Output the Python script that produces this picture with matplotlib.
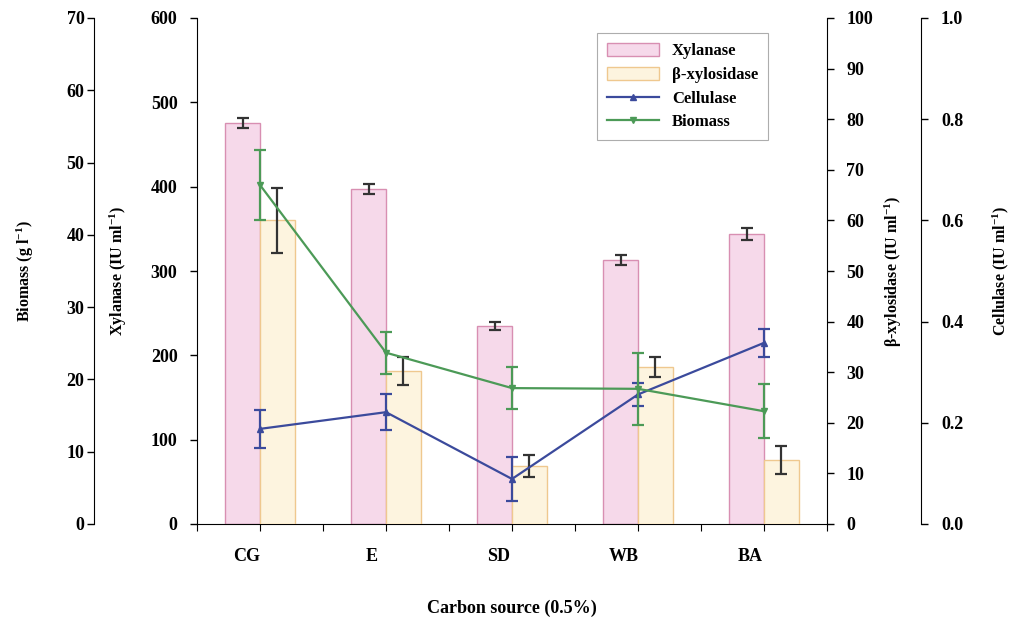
import numpy as np
import matplotlib.pyplot as plt
from matplotlib.patches import Patch
from matplotlib.lines import Line2D

plt.rcParams['font.family'] = ['Liberation Serif', 'DejaVu Serif']
plt.rcParams['font.weight'] = 'bold'
plt.rcParams['axes.labelweight'] = 'bold'
plt.rcParams['mathtext.fontset'] = 'custom'
plt.rcParams['mathtext.rm'] = 'Liberation Serif:bold'
plt.rcParams['mathtext.default'] = 'rm'

# Carbon sources and measured activities (mean, error)
categories = ['CG', 'E', 'SD', 'WB', 'BA']
xylanase = [475, 397, 235, 313, 344]
xylanase_err = [6, 6, 5, 6, 7]
bxylosidase = [60, 30.2, 11.5, 31, 12.6]
bxylosidase_err = [6.5, 2.8, 2.2, 2.0, 2.8]
cellulase = [0.188, 0.221, 0.089, 0.256, 0.358]
cellulase_err = [0.038, 0.036, 0.043, 0.023, 0.028]
biomass = [46.9, 23.7, 18.8, 18.7, 15.6]
biomass_err = [4.9, 2.9, 2.9, 5.0, 3.7]

PINK, PINK_EDGE = '#f6d9ea', '#d88fb2'
YELLOW, YELLOW_EDGE = '#fdf4df', '#efc88f'
BLUE = '#3b4a9c'
GREEN = '#4c9a57'
TICK_FS = 13
LABEL_FS = 11.5

x = np.arange(len(categories))
w = 0.275

fig = plt.figure(figsize=(10.12, 6.19), dpi=100)
ax = fig.add_axes([197 / 1012, 1 - 524 / 619, 630 / 1012, 506 / 619])

# Xylanase bars (left axis)
ax.bar(x - w / 2, xylanase, w, color=PINK, edgecolor=PINK_EDGE, linewidth=1, zorder=2)
ax.errorbar(x - w / 2, xylanase, yerr=xylanase_err, fmt='none', ecolor='#333333',
            elinewidth=1.6, capsize=4.5, capthick=1.6, zorder=3)
ax.set_ylim(0, 600)
ax.set_yticks(np.arange(0, 601, 100))
ax.set_xlim(-0.5, len(categories) - 0.5)
ax.set_ylabel('Xylanase (IU ml$^{-1}$)', fontsize=LABEL_FS, labelpad=16)
for s in ['top', 'right']:
    ax.spines[s].set_visible(False)
ax.tick_params(axis='y', direction='out', length=5, width=1, pad=9, labelsize=TICK_FS)

# category ticks: boundaries and centres, labels sit a bit left of centre
ax.set_xticks(np.arange(-0.5, len(categories), 0.5))
ax.tick_params(axis='x', which='major', direction='out', length=5, labelbottom=False)
ax.set_xticks(x - 0.11, categories, minor=True)
ax.tick_params(axis='x', which='minor', length=0, pad=17, labelsize=TICK_FS)
ax.set_xlabel('Carbon source (0.5%)', fontsize=13, labelpad=25)

# beta-xylosidase bars (right axis)
ax_b = ax.twinx()
ax_b.bar(x + w / 2, bxylosidase, w, color=YELLOW, edgecolor=YELLOW_EDGE, linewidth=1, zorder=2)
ax_b.errorbar(x + w / 2, bxylosidase, yerr=bxylosidase_err, fmt='none', ecolor='#333333',
              elinewidth=1.6, capsize=4.5, capthick=1.6, zorder=3)
ax_b.set_ylim(0, 100)
ax_b.set_yticks(np.arange(0, 101, 10))
ax_b.set_ylabel('β-xylosidase (IU ml$^{-1}$)', fontsize=LABEL_FS, labelpad=7)
for s in ['top', 'left', 'bottom']:
    ax_b.spines[s].set_visible(False)
ax_b.tick_params(axis='y', direction='out', length=5, width=1, pad=9, labelsize=TICK_FS)

# Cellulase line (outer right axis)
ax_c = ax.twinx()
ax_c.spines['right'].set_position(('outward', 68))
for s in ['top', 'left', 'bottom']:
    ax_c.spines[s].set_visible(False)
ax_c.errorbar(x, cellulase, yerr=cellulase_err, color=BLUE, marker='^', markersize=4,
              linewidth=1.6, elinewidth=1.6, capsize=4, capthick=1.6, zorder=4)
ax_c.set_ylim(0, 1.0)
ax_c.set_yticks(np.arange(0, 1.01, 0.2))
ax_c.yaxis.set_major_formatter(plt.FormatStrFormatter('%.1f'))
ax_c.set_ylabel('Cellulase (IU ml$^{-1}$)', fontsize=LABEL_FS, labelpad=20)
ax_c.tick_params(axis='y', direction='out', length=5, width=1, pad=9, labelsize=TICK_FS)

# Biomass line (outer left axis)
ax_m = ax.twinx()
ax_m.yaxis.set_ticks_position('left')
ax_m.yaxis.set_label_position('left')
ax_m.spines['left'].set_position(('outward', 74))
ax_m.spines['left'].set_visible(True)
for s in ['top', 'right', 'bottom']:
    ax_m.spines[s].set_visible(False)
ax_m.errorbar(x, biomass, yerr=biomass_err, color=GREEN, marker='v', markersize=4,
              linewidth=1.6, elinewidth=1.6, capsize=4, capthick=1.6, zorder=4)
ax_m.set_ylim(0, 70)
ax_m.set_yticks(np.arange(0, 71, 10))
ax_m.set_ylabel('Biomass (g l$^{-1}$)', fontsize=LABEL_FS, labelpad=22)
ax_m.tick_params(axis='y', direction='out', length=5, width=1, pad=2, labelsize=TICK_FS)

handles = [
    Patch(facecolor=PINK, edgecolor=PINK_EDGE, label='Xylanase'),
    Patch(facecolor=YELLOW, edgecolor=YELLOW_EDGE, label='β-xylosidase'),
    Line2D([], [], color=BLUE, marker='^', markersize=4, linewidth=1.6, label='Cellulase'),
    Line2D([], [], color=GREEN, marker='v', markersize=4, linewidth=1.6, label='Biomass'),
]
leg = ax_m.legend(handles=handles, loc='upper left', bbox_to_anchor=(0.635, 0.97),
                  borderaxespad=0, frameon=True, fancybox=False, edgecolor='#999999',
                  fontsize=12, handlelength=3.1, handleheight=0.8, labelspacing=0.45,
                  borderpad=0.6, handletextpad=0.8)
leg.get_frame().set_linewidth(0.8)

fig.savefig('out.png', dpi=100)
